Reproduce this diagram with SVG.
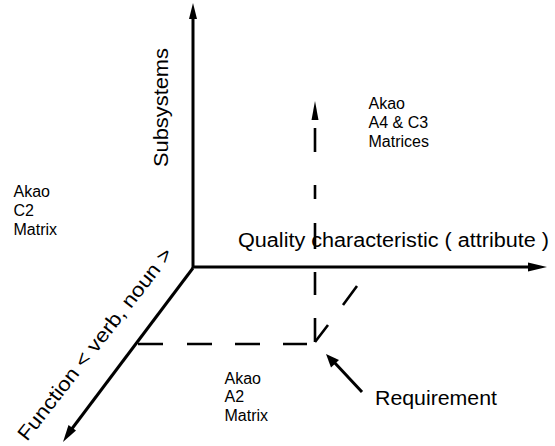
<svg xmlns="http://www.w3.org/2000/svg" width="555" height="446" viewBox="0 0 555 446">
<style>
.ax{stroke:#000;stroke-width:3;fill:none}
.ds{stroke:#000;stroke-width:2.6;fill:none}
.hd{fill:#000;stroke:none}
.big{font-family:"Liberation Sans",Arial,sans-serif;font-size:20px;fill:#000}
.sm{font-family:"Liberation Sans",Arial,sans-serif;font-size:16px;fill:#000}
</style>
<rect width="555" height="446" fill="#fff"/>
<g id="axes">
<path class="ax" d="M193 268 L193 17"/>
<polygon class="hd" points="193,3 189,19 197,19"/>
<path class="ax" d="M193 267 L530 267"/>
<polygon class="hd" points="547,267 528,262.5 528,271.5"/>
<path class="ax" d="M193 268 L71 430"/>
<polygon class="hd" points="63,442 68.5,425 76,430.5"/>
</g>
<g id="connectors">
<path class="ds" d="M138 344 H163 M187 344 H212 M235 344 H260 M283 344 H307"/>
<path class="ds" d="M315 342 V318 M315 295 V272 M315 249 V223 M315 199 V185 M315 152 V128"/>
<polygon class="hd" points="315,101 311.5,120 318.5,120"/>
<path class="ds" d="M315 342 L328 325 M343 305 L357 286"/>
<path class="ax" d="M362 392 L334 362"/>
<polygon class="hd" points="326,354 339,360 331,367.5"/>
</g>
<g id="labels">
<text class="big" transform="translate(168,167) rotate(-90)" textLength="119" lengthAdjust="spacingAndGlyphs">Subsystems</text>
<text class="big" x="238" y="247" textLength="311" lengthAdjust="spacingAndGlyphs">Quality characteristic ( attribute )</text>
<text class="big" transform="translate(27,442) rotate(-52)" textLength="238" lengthAdjust="spacingAndGlyphs">Function &lt; verb, noun &gt;</text>
<text class="big" x="375" y="405" textLength="122" lengthAdjust="spacingAndGlyphs">Requirement</text>
</g>
<g id="akao-c2" class="sm">
<text x="13.5" y="197">Akao</text>
<text x="13.5" y="216">C2</text>
<text x="13.5" y="235">Matrix</text>
</g>
<g id="akao-a4c3" class="sm">
<text x="368.5" y="109">Akao</text>
<text x="368.5" y="128">A4 &amp; C3</text>
<text x="368.5" y="147">Matrices</text>
</g>
<g id="akao-a2" class="sm">
<text x="224.5" y="383.5">Akao</text>
<text x="224.5" y="402">A2</text>
<text x="224.5" y="420.5">Matrix</text>
</g>
</svg>
